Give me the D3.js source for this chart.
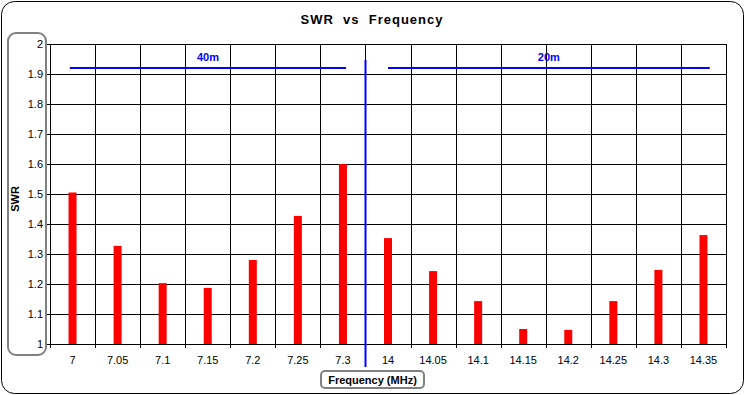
<!DOCTYPE html>
<html>
<head>
<meta charset="utf-8">
<script src="https://cdn.jsdelivr.net/npm/d3@7"></script>
<style>
  body { margin: 0; background: #fff; }
  svg { display: block; font-family: "Liberation Sans", Arial, sans-serif; }
</style>
</head>
<body>
<svg id="chart"></svg>
<script>
// chart data
const frequencies = ["7", "7.05", "7.1", "7.15", "7.2", "7.25", "7.3", "14", "14.05", "14.1", "14.15", "14.2", "14.25", "14.3", "14.35"];
const swrValues = [1.505, 1.327, 1.203, 1.187, 1.28, 1.427, 1.6, 1.353, 1.243, 1.143, 1.05, 1.047, 1.143, 1.247, 1.363];
const yTicks = [1, 1.1, 1.2, 1.3, 1.4, 1.5, 1.6, 1.7, 1.8, 1.9, 2];

// band markers (x in category index units from the left edge, y in SWR)
const bandNames = ["40m", "20m"];
const bandStart = [0.44, 7.5];
const bandEnd = [6.57, 14.64];
const bandLevel = 1.92;
const dividerIndex = 7;
const dividerTop = 1.947;
const dividerBottom = 0.923;

const width = 745;
const height = 395;
const margin = {top: 44, right: 19, bottom: 51, left: 50};

const svg = d3.select("#chart")
    .attr("width", width)
    .attr("height", height);

// outer frame
svg.append("rect")
    .attr("x", 1.5).attr("y", 1.5)
    .attr("width", width - 3).attr("height", height - 3)
    .attr("rx", 13)
    .attr("fill", "#fff")
    .attr("stroke", "#000");

// title
svg.append("text")
    .attr("x", 372).attr("y", 24)
    .attr("text-anchor", "middle")
    .style("font-size", "13px")
    .style("font-weight", "bold")
    .style("letter-spacing", "1px")
    .style("white-space", "pre")
    .text("SWR  vs  Frequency");

const x = d3.scaleBand()
    .domain(frequencies)
    .range([margin.left, width - margin.right])
    .paddingInner(0)
    .paddingOuter(0);

// index scale for overlay lines
const xi = d3.scaleLinear()
    .domain([0, frequencies.length])
    .range([margin.left, width - margin.right]);

const y = d3.scaleLinear()
    .domain([1, 2])
    .range([height - margin.bottom, margin.top]);

// y label box
svg.append("rect")
    .attr("x", 8).attr("y", 33)
    .attr("width", 38).attr("height", 322)
    .attr("rx", 8)
    .attr("fill", "none")
    .attr("stroke", "#808080")
    .attr("stroke-width", 2);

// horizontal gridlines
svg.append("g")
    .selectAll("line")
    .data(yTicks)
    .join("line")
    .attr("x1", margin.left).attr("x2", width - margin.right)
    .attr("y1", d => Math.round(y(d)) + 0.5).attr("y2", d => Math.round(y(d)) + 0.5)
    .attr("stroke", "#000");

// vertical gridlines
svg.append("g")
    .selectAll("line")
    .data(d3.range(frequencies.length + 1))
    .join("line")
    .attr("x1", d => Math.round(xi(d)) + 0.5).attr("x2", d => Math.round(xi(d)) + 0.5)
    .attr("y1", margin.top).attr("y2", height - margin.bottom + 4)
    .attr("stroke", "#000");

// y ticks
const yAxis = svg.append("g");
yAxis.selectAll("line")
    .data(yTicks)
    .join("line")
    .attr("x1", margin.left - 3).attr("x2", margin.left)
    .attr("y1", d => Math.round(y(d)) + 0.5).attr("y2", d => Math.round(y(d)) + 0.5)
    .attr("stroke", "#000");
yAxis.selectAll("text")
    .data(yTicks)
    .join("text")
    .attr("x", 43)
    .attr("y", d => y(d) + 4)
    .attr("text-anchor", "end")
    .style("font-size", "11px")
    .text(d => +d.toFixed(1));

// x tick labels
svg.append("g")
    .selectAll("text")
    .data(frequencies)
    .join("text")
    .attr("x", d => x(d) + x.bandwidth() / 2)
    .attr("y", 364)
    .attr("text-anchor", "middle")
    .style("font-size", "11px")
    .text(d => d);

// bars
svg.append("g")
    .selectAll("rect")
    .data(swrValues)
    .join("rect")
    .attr("x", (d, i) => x(frequencies[i]) + x.bandwidth() / 2 - 4)
    .attr("width", 8)
    .attr("y", d => y(d))
    .attr("height", d => y(1) - y(d))
    .attr("fill", "#ff0000");

// band lines
const bands = svg.append("g");
bands.selectAll("line")
    .data(bandNames)
    .join("line")
    .attr("x1", (d, i) => xi(bandStart[i]))
    .attr("x2", (d, i) => xi(bandEnd[i]))
    .attr("y1", y(bandLevel)).attr("y2", y(bandLevel))
    .attr("stroke", "#0000ff")
    .attr("stroke-width", 2);
bands.selectAll("text")
    .data(bandNames)
    .join("text")
    .attr("x", (d, i) => xi((bandStart[i] + bandEnd[i]) / 2))
    .attr("y", y(bandLevel) - 7)
    .attr("text-anchor", "middle")
    .attr("fill", "#0000ff")
    .style("font-size", "11px")
    .style("font-weight", "bold")
    .text(d => d);

// divider
svg.append("line")
    .attr("x1", Math.round(xi(dividerIndex)) + 0.5).attr("x2", Math.round(xi(dividerIndex)) + 0.5)
    .attr("y1", y(dividerTop)).attr("y2", y(dividerBottom))
    .attr("stroke", "#0000ff")
    .attr("stroke-width", 2);

// y title
svg.append("text")
    .attr("transform", "translate(19,199) rotate(-90)")
    .attr("text-anchor", "middle")
    .style("font-size", "11px")
    .style("font-weight", "bold")
    .text("SWR");

// x title box
svg.append("rect")
    .attr("x", 321).attr("y", 371)
    .attr("width", 103).attr("height", 17)
    .attr("rx", 4)
    .attr("fill", "#fff")
    .attr("stroke", "#808080")
    .attr("stroke-width", 2);

svg.append("text")
    .attr("x", 372.5).attr("y", 384)
    .attr("text-anchor", "middle")
    .style("font-size", "11px")
    .style("font-weight", "bold")
    .text("Frequency (MHz)");
</script>
</body>
</html>
